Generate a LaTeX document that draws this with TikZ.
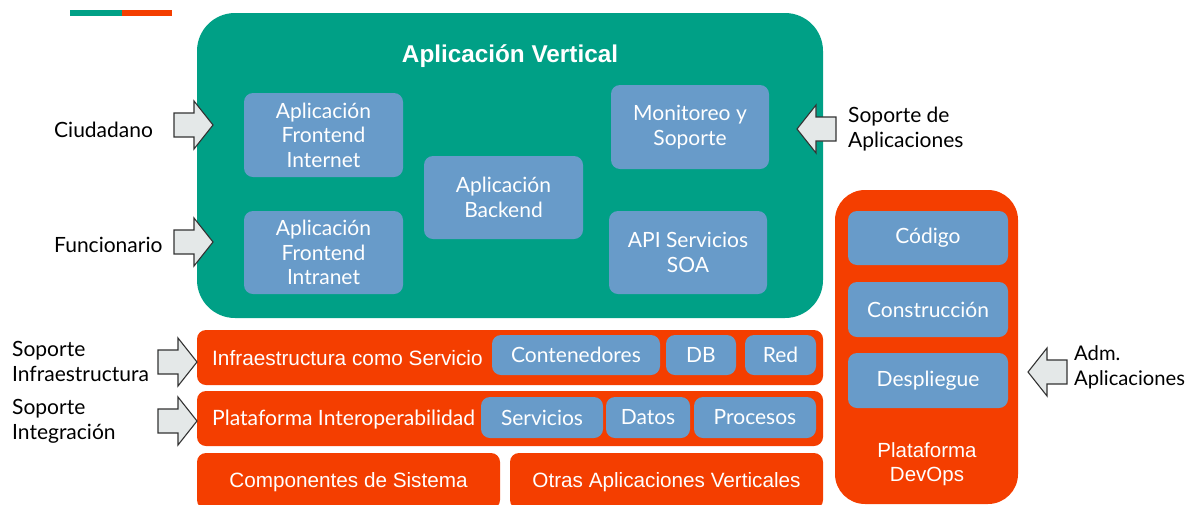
\documentclass[tikz,border=0pt]{standalone}
\usepackage{fontspec}
\setmainfont{Lato}
\newfontfamily\arial{Liberation Sans}
\definecolor{vgreen}{RGB}{0,160,134}
\definecolor{vorange}{RGB}{244,62,0}
\definecolor{vblue}{RGB}{104,155,201}
\definecolor{afill}{RGB}{228,232,232}
\definecolor{astroke}{RGB}{51,51,51}
\begin{document}
\begin{tikzpicture}[x=1pt,y=-1pt,
  bluebox/.style={fill=vblue, rounded corners=9pt, inner sep=0pt, align=center, text=white, font=\fontsize{21}{24.5}\selectfont},
  orangebox/.style={fill=vorange, rounded corners=9pt, inner sep=0pt, align=center, text=white},
  wlabel/.style={font=\fontsize{21}{25}\selectfont, align=left, anchor=west, inner sep=0pt, text=black},
  orangetext/.style={text=white, inner sep=0pt, anchor=west},
  blockarrow/.style={fill=afill, draw=astroke, line width=1.1pt, line join=miter},
  rarr/.pic={\draw[blockarrow] (0,0) -- (-19,-24) -- (-19,-12) -- (-39,-12) -- (-39,12) -- (-19,12) -- (-19,24) -- cycle;},
  larr/.pic={\draw[blockarrow] (0,0) -- (19,-24) -- (19,-12) -- (39,-12) -- (39,12) -- (19,12) -- (19,24) -- cycle;}
]
\useasboundingbox (0,0) rectangle (1188,504);
% top-left bar
\fill[vgreen] (70,10) rectangle (122,16);
\fill[vorange] (122,10) rectangle (172,16);

% vertical application container
\node[fill=vgreen, rounded corners=38pt, minimum width=626pt, minimum height=305pt, inner sep=0pt] (vert) at (510,165.5) {};
\node[text=white, font=\arial\bfseries\fontsize{24.3}{28}\selectfont, inner sep=0pt] (title) at (510,56) {Aplicación Vertical};

\node[bluebox, minimum width=159pt, minimum height=84pt] (fint) at (323.5,135) {Aplicación\\Frontend\\Internet};
\node[bluebox, minimum width=159pt, minimum height=83pt] (fintra) at (323.5,252.5) {Aplicación\\Frontend\\Intranet};
\node[bluebox, minimum width=159pt, minimum height=83pt] (back) at (503.5,197.5) {Aplicación\\Backend};
\node[bluebox, minimum width=158pt, minimum height=84pt] (mon) at (690,127) {Monitoreo y\\Soporte};
\node[bluebox, minimum width=158pt, minimum height=83pt] (api) at (688,252.5) {API Servicios\\SOA};

% DevOps
\node[orangebox, rounded corners=30pt, minimum width=183pt, minimum height=314pt] (devops) at (926.5,347) {};
\node[bluebox, minimum width=160pt, minimum height=54pt] (cod) at (928,238) {Código};
\node[bluebox, minimum width=160pt, minimum height=55pt] (cons) at (928,309.5) {Construcción};
\node[bluebox, minimum width=160pt, minimum height=55pt] (desp) at (928,380.5) {Despliegue};
\node[text=white, align=center, inner sep=0pt, font=\arial\fontsize{20.5}{24}\selectfont] (dvtext) at (927,464) {Plataforma\\DevOps};

% layers
\node[orangebox, minimum width=626pt, minimum height=55pt] (iaas) at (510,357.5) {};
\node[orangetext, font=\arial\fontsize{20.8}{24}\selectfont] (iaastext) at (212,358.5) {Infraestructura como Servicio};
\node[bluebox, minimum width=168pt, minimum height=40pt] (cont) at (576,355) {Contenedores};
\node[bluebox, minimum width=70pt, minimum height=40pt] (db) at (701,355) {DB};
\node[bluebox, minimum width=71pt, minimum height=40pt] (red) at (780.5,355) {Red};

\node[orangebox, minimum width=626pt, minimum height=55pt] (pint) at (510,418.5) {};
\node[orangetext, font=\fontsize{21.1}{24}\selectfont] (pinttext) at (212,419.5) {Plataforma Interoperabilidad};
\node[bluebox, minimum width=122pt, minimum height=41pt] (serv) at (542,417.5) {Servicios};
\node[bluebox, minimum width=84pt, minimum height=41pt] (datos) at (648,417.5) {Datos};
\node[bluebox, minimum width=122pt, minimum height=41pt] (proc) at (755,417.5) {Procesos};

\node[orangebox, minimum width=303pt, minimum height=56pt] (comp) at (348.5,481) {};
\node[text=white, inner sep=0pt, font=\arial\fontsize{20.7}{24}\selectfont] (comptext) at (348.5,482) {Componentes de Sistema};
\node[orangebox, minimum width=313pt, minimum height=56pt] (otras) at (666.5,481) {};
\node[text=white, inner sep=0pt, font=\arial\fontsize{20.7}{24}\selectfont] (otrastext) at (666.5,482) {Otras Aplicaciones Verticales};

% external labels and arrows
\node[wlabel] (ciud) at (54,130) {Ciudadano};
\node[wlabel] (func) at (54,245) {Funcionario};
\node[wlabel] (sinf) at (12,361) {Soporte\\Infraestructura};
\node[wlabel] (sint) at (12,421) {Soporte\\Integración};
\node[wlabel] (sapl) at (848,129.5) {Soporte de\\Aplicaciones};
\node[wlabel, font=\fontsize{20.2}{25}\selectfont] (adm) at (1074,367.5) {Adm.\\Aplicaciones};

\pic at (213,125) {rarr};
\pic at (213,242) {rarr};
\pic at (197,362) {rarr};
\pic at (197,421) {rarr};
\pic at (797,129) {larr};
\pic at (1028,372) {larr};
\end{tikzpicture}
\end{document}
